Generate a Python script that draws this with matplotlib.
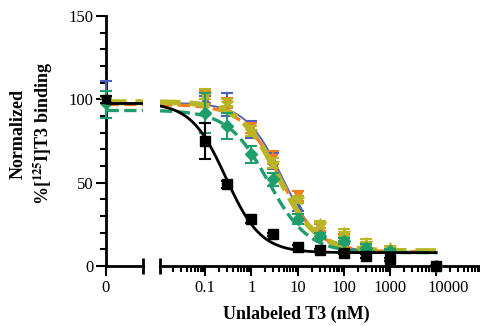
import numpy as np
import matplotlib.pyplot as plt
from matplotlib.ticker import FixedLocator, NullFormatter, LogLocator
import matplotlib.transforms as mtransforms

plt.rcParams['font.family'] = ['Liberation Serif', 'DejaVu Serif']
plt.rcParams['mathtext.fontset'] = 'stix'

# concentrations (nM) of unlabeled T3
conc = [0.1, 0.3, 1, 3, 10, 30, 100, 300, 1000, 10000]

# mean % binding (zero-dose value kept apart)
black = [75, 49, 28, 19, 11.5, 9.5, 8, 6, 4, 0]
blue = [100, 97, 82, 63, 36, 25, 15, 10, 4, 0]
orange = [101, 98, 83, 65, 42, 23, 17, 12, 9, 0]
olive = [103, 98, 81, 62, 40, 25, 20, 14, 11, 0]
green = [92, 84, 67, 52, 28, 18, 15, 11, 9, 0]

black_err = [11, 2, 2, 1, 1, 1, 1, 1, 1, 0]
blue_err = [2, 7, 5, 5, 3, 2, 2, 2, 1, 0]
orange_err = [4, 3, 3, 4, 3, 2, 2, 2, 1, 0]
olive_err = [3, 2, 3, 3, 2, 2, 2, 2, 1, 0]
green_err = [12, 8, 5, 4, 3, 2, 2, 2, 1, 0]

# values at zero dose
zero_vals = [100, 100, 101, 99, 97]
zero_errs = [2, 11, 4, 2, 8]

# fitted curve parameters: top, bottom, IC50 (nM), hill slope
tops = [98, 98, 97, 98.5, 93.5]
bottoms = [8, 8.5, 8.5, 9, 8]
ic50s = [0.28, 4.6, 4.2, 3.8, 2.3]
hills = [1.15, 1.1, 1.05, 1.05, 1.0]

colors = ['black', '#4b5fc0', '#f47d22', '#b9b626', '#1e9e6b']
markers = ['s', '^', 'v', '*', 'D']
msizes = [7, 6, 6, 9, 6]
styles = ['-', '-', '--', '--', '--']
widths = [2.0, 1.3, 2.4, 4.0, 2.4]
series = [black, blue, orange, olive, green]
errs = [black_err, blue_err, orange_err, olive_err, green_err]
order = [1, 2, 3, 4, 0]  # draw sequence

fig = plt.figure(figsize=(4.81, 3.26), dpi=100)
axL = fig.add_axes([106/481, 60/326, 37/481, 250/326])
axR = fig.add_axes([160/481, 60/326, 321/481, 250/326])

xlo, xhi = 10**-1.98, 10**4.97
xs = np.logspace(np.log10(xlo), np.log10(conc[-1]), 400)

for k, i in enumerate(order):
    z = 3 + k
    top, bot, ic, h = tops[i], bottoms[i], ic50s[i], hills[i]
    ys = bot + (top - bot) / (1 + (xs / ic) ** h)
    axR.plot(xs, ys, color=colors[i], ls=styles[i], lw=widths[i], zorder=z)
    axR.errorbar(conc, series[i], yerr=errs[i], fmt=markers[i], color=colors[i],
                 ms=msizes[i], capsize=4, capthick=1.5, elinewidth=1.5,
                 clip_on=False, zorder=z)
    axL.plot([0, 1], [top, top], color=colors[i], ls=styles[i], lw=widths[i], zorder=z)
    axL.errorbar([0], [zero_vals[i]], yerr=[zero_errs[i]], fmt=markers[i],
                 color=colors[i], ms=msizes[i] * 0.8, capsize=4, capthick=1.5,
                 elinewidth=1.5, clip_on=False, zorder=z)

for ax in (axL, axR):
    ax.set_ylim(0, 150)
    ax.spines['top'].set_visible(False)
    ax.spines['right'].set_visible(False)
    ax.spines['bottom'].set_linewidth(2)
    ax.spines['left'].set_linewidth(2)
    ax.tick_params(width=1.5, length=7, labelsize=12, pad=2)
    ax.tick_params(which='minor', width=1.5, length=4)

axL.set_xlim(0, 1)
axL.set_xticks([0])
axL.set_yticks([0, 50, 100, 150])
axL.yaxis.set_minor_locator(FixedLocator(np.arange(0, 151, 10)))
axL.plot([1], [0], marker='|', ms=12, mew=2, color='black', clip_on=False,
         transform=axL.get_xaxis_transform())
axL.tick_params(axis='x', pad=3)

axR.set_xscale('log')
axR.set_xlim(xlo, xhi)
axR.spines['left'].set_visible(False)
axR.set_yticks([])
axR.set_xticks([0.1, 1, 10, 100, 1000, 10000])
axR.set_xticklabels(['0.1', '1', '10', '100', '1000', '10000'])
axR.xaxis.set_minor_locator(LogLocator(base=10, subs=np.arange(2, 10), numticks=20))
axR.xaxis.set_minor_formatter(NullFormatter())
axR.tick_params(axis='x', pad=3)
axR.plot([0], [0], marker='|', ms=12, mew=2, color='black', clip_on=False,
         transform=axR.transAxes)
# last label sits a little right of its tick in the original
lab = axR.get_xticklabels()[-1]
lab.set_transform(lab.get_transform() + mtransforms.ScaledTranslation(12/100, 0, fig.dpi_scale_trans))

fig.text(0.615, 0.035, 'Unlabeled T3 (nM)', ha='center', va='center',
         fontsize=13, fontweight='bold')
fig.text(0.038, 0.59, 'Normalized', rotation=90, ha='center', va='center',
         fontsize=13, fontweight='bold')
fig.text(0.09, 0.59, r'%[$^{\mathbf{125}}$I]T3 binding', rotation=90,
         ha='center', va='center', fontsize=13, fontweight='bold')

fig.savefig('out.png', dpi=100)
